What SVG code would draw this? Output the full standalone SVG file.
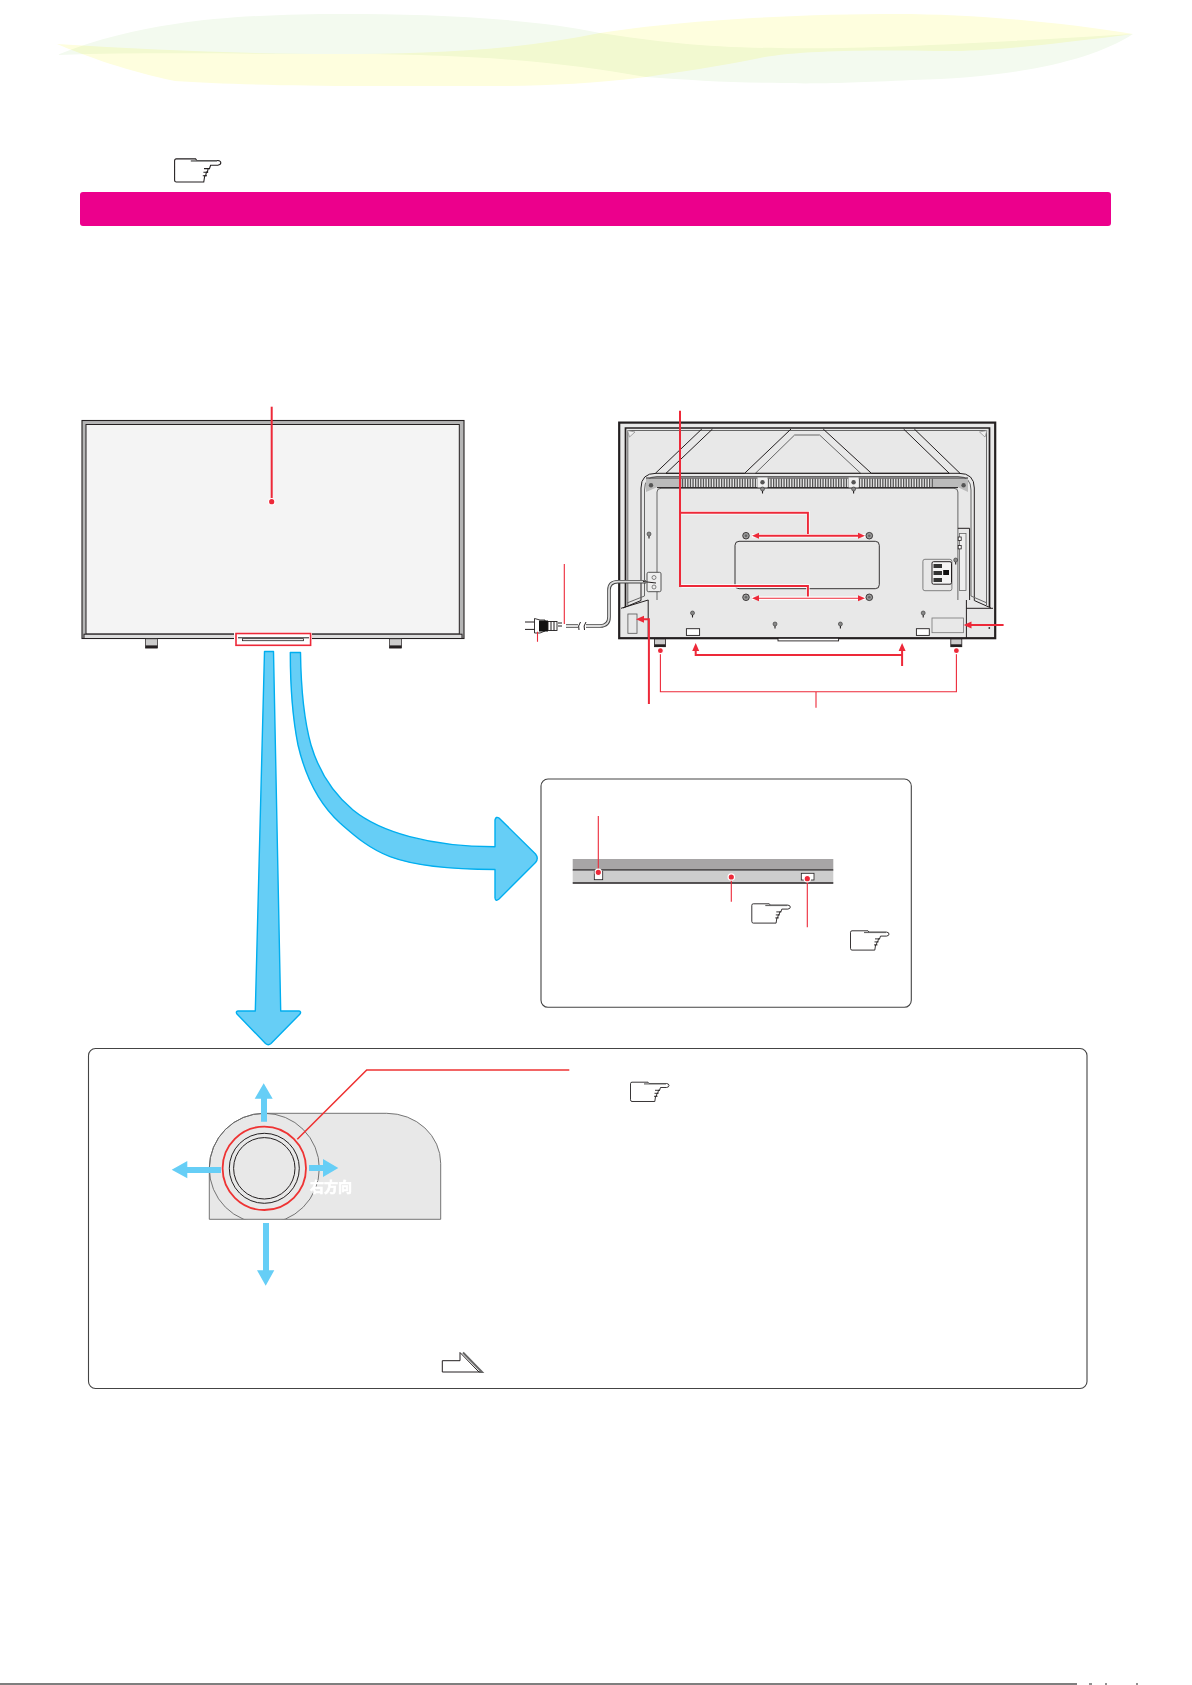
<svg xmlns="http://www.w3.org/2000/svg" xmlns:xlink="http://www.w3.org/1999/xlink" width="1192" height="1685" viewBox="0 0 1192 1685">
<style>
.ln{fill:none;stroke:#231f20;stroke-width:1}
.gl{fill:none;stroke:#666;stroke-width:1}
.r1{fill:none;stroke:#ed2939;stroke-width:1.1}
.r2{fill:none;stroke:#ed2939;stroke-width:2}
.halo{fill:none;stroke:#fff;stroke-width:3.4}
.dot{fill:#ed2939;stroke:#fff;stroke-width:1.2}
.tip{fill:#ed2939}
.big{fill:#66cef6;stroke:#00aeef;stroke-width:1.4;stroke-linejoin:round}
.lb{fill:#66cef6}
.panel{fill:#fff;stroke:#444;stroke-width:1.1}
</style>
<defs>
<g id="hand">
<path d="M2,0.5H18L19,1.8H36.5Q39,2 39,3.8Q39,5.5 36.5,5.8H30.5L29.6,8.5H28.5L27.8,11.5H27L26.4,14.5H25.6L24.8,19.8H2Q0.5,19.8 0.5,18V2Q0.5,0.5 2,0.5Z" fill="#fff" stroke="#231f20" stroke-width="0.9"/>
<path d="M14,2.2H36" fill="none" stroke="#666" stroke-width="1.2"/>
<path d="M25,8.6H30M24.5,11.6H28.5M24,14.6H27.5" fill="none" stroke="#231f20" stroke-width="0.9"/>
</g>
<g id="screw">
<circle r="2" fill="#888" stroke="#333" stroke-width="0.6"/>
<path d="M0,2V4.5" stroke="#231f20" stroke-width="1.1" fill="none"/>
</g>
<g id="hole">
<circle r="3.3" fill="#999" stroke="#231f20" stroke-width="0.8"/>
<circle r="1.3" fill="#666"/>
</g>
<clipPath id="bodyclip"><rect x="205" y="1105" width="240" height="114.3"/></clipPath>
</defs>
<rect width="1192" height="1685" fill="#fff"/>

<g id="header-wave">
<path style="mix-blend-mode:multiply" fill="#f3faef" d="M57,55C100,38 135,30 175,24C225,16 290,14 342,14C430,14 530,18 600,33C660,42 710,48 780,48C860,50 1000,42 1133,34C1090,62 1010,78 912,80C850,83 810,84 783,83C730,83 690,80 646,77C560,62 480,54 335,54C250,54 150,52 57,55Z"/>
<path style="mix-blend-mode:multiply" fill="#fefede" d="M57,44C150,50 250,54 335,54C430,54 520,50 600,33C680,20 800,14 897,14C970,14 1060,22 1133,34C1040,46 980,52 935,51C880,50 800,50 760,58C720,66 680,72 646,77C590,84 540,86 494,86C440,86 400,86 365,86C290,86 220,84 175,81C130,72 85,56 57,44Z"/>
</g>

<use id="hand-top" href="#hand" xlink:href="#hand" transform="translate(174,158.3) scale(1.2)"/>
<rect id="title-bar" x="80" y="192" width="1031" height="34" rx="3" fill="#ec008c"/>

<g id="tv-front">
<rect x="82" y="420.5" width="382" height="218" fill="#b5b5b5" stroke="#231f20" stroke-width="1.1"/>
<rect x="86" y="424.5" width="373.3" height="209.5" fill="#f4f4f4" stroke="#231f20" stroke-width="1"/>
<rect x="84" y="634.2" width="378" height="4.3" fill="#dcdcdc" stroke="#231f20" stroke-width="1"/>
<rect x="145.5" y="638.8" width="12" height="9.2" fill="#ccc" stroke="#231f20" stroke-width="0.7"/>
<rect x="145.5" y="645.4" width="12" height="2.8" fill="#231f20"/>
<rect x="389.5" y="638.8" width="12" height="9.2" fill="#ccc" stroke="#231f20" stroke-width="0.7"/>
<rect x="389.5" y="645.4" width="12" height="2.8" fill="#231f20"/>
<rect x="234" y="632" width="78" height="15" fill="#fff"/>
<rect x="236" y="633.5" width="74.6" height="11.8" fill="#fff" stroke="#ed2939" stroke-width="1.6"/>
<path class="ln" d="M238,637.8H309"/>
<rect x="242.5" y="638.7" width="61" height="2" fill="#fff" stroke="#231f20" stroke-width="0.8"/>
</g>

<g id="tv-back">
<rect x="619.2" y="422.6" width="376" height="215.6" fill="#e8e8e8" stroke="#231f20" stroke-width="2.2"/>
<path d="M625.5,607V428H989.5V607" fill="none" stroke="#231f20" stroke-width="1.7"/>
<path class="gl" d="M627.8,605V430.5H986.5V605"/>
<path d="M627.5,430.5L635,432L629.5,437ZM987,430.5L979.5,432L985,437Z" fill="#f0f0f0" stroke="#888" stroke-width="0.7"/>
<path class="ln" d="M701.8,429L655.4,473.3M712.5,429L666,473.3H744.6L791,429M823.2,429L871.4,473.3H949.3L903.6,429M914.3,429L960,473.3"/>
<path class="gl" d="M755.4,473.3L794.6,435H819.6L860.7,473.3Z"/>
<path class="ln" d="M623,608L641,600.5V488Q641,473.3 656,473.3H959Q974.3,473.3 974.3,488V600.5L991,608"/>
<path class="gl" d="M627,603L644.5,596V490Q644.5,476.5 657,476.5H958Q971,476.5 971,490V596L987,603"/>
<path class="gl" d="M657,600V492Q657,488.3 661,488.3H954Q957.9,488.3 957.9,492V600"/>
<path d="M646,478.5H682V487.3H657L646,492Z" fill="#bbb"/>
<path d="M933,478.5H968V492L958,487.3H933Z" fill="#bbb"/>
<path d="M682,483H934" fill="none" stroke="#555" stroke-width="8.4" stroke-dasharray="1.3 1.3"/>
<path class="ln" d="M646,478H968M657,487.6H958"/>
<rect x="757.5" y="477.5" width="10" height="10" fill="#f0f0f0"/>
<rect x="848.6" y="477.5" width="10" height="10" fill="#f0f0f0"/>
<circle cx="762.5" cy="482.3" r="2.2" fill="#555"/>
<circle cx="853.6" cy="482.3" r="2.2" fill="#555"/>
<circle cx="651" cy="485.3" r="2.2" fill="#555"/>
<circle cx="963.6" cy="485.3" r="2.2" fill="#555"/>
<use href="#screw" xlink:href="#screw" x="762.5" y="489"/>
<use href="#screw" xlink:href="#screw" x="853.6" y="489"/>
<use href="#screw" xlink:href="#screw" x="649" y="534"/>
<use href="#screw" xlink:href="#screw" x="955.7" y="560"/>
<use href="#screw" xlink:href="#screw" x="692.5" y="613"/>
<use href="#screw" xlink:href="#screw" x="923.2" y="613"/>
<use href="#screw" xlink:href="#screw" x="775" y="624"/>
<use href="#screw" xlink:href="#screw" x="840.4" y="624"/>
<use href="#hole" xlink:href="#hole" x="746" y="535.7"/>
<use href="#hole" xlink:href="#hole" x="869.3" y="535.7"/>
<use href="#hole" xlink:href="#hole" x="746" y="597.3"/>
<use href="#hole" xlink:href="#hole" x="869.3" y="597.3"/>
<rect x="735" y="541.3" width="144.3" height="47.4" rx="4" fill="#e8e8e8" stroke="#231f20" stroke-width="0.9"/>
<path class="ln" d="M621,608.3L648.2,600V638M966.4,600V638M966.4,608.3H993"/>
<path class="ln" d="M957.9,528.3H969.6V600"/>
<rect x="959.5" y="533.5" width="6.5" height="57" fill="#eee" stroke="#666" stroke-width="0.8"/>
<rect x="958.2" y="537" width="3" height="3.4" fill="#fff" stroke="#231f20" stroke-width="0.8"/>
<rect x="958.2" y="545.5" width="3" height="3.4" fill="#fff" stroke="#231f20" stroke-width="0.8"/>
<rect x="922.9" y="559.3" width="29" height="31.4" rx="2" fill="none" stroke="#666" stroke-width="0.8"/>
<rect x="932" y="561.7" width="19.5" height="22.5" rx="1.5" fill="#f4f4f4" stroke="#231f20" stroke-width="1"/>
<rect x="933.5" y="564" width="8.5" height="4" fill="#333"/>
<rect x="933.5" y="571" width="8.5" height="4" fill="#333"/>
<rect x="933.5" y="578" width="8.5" height="4" fill="#333"/>
<rect x="943.2" y="570" width="5.8" height="5" fill="#111"/>
<rect x="932" y="618" width="31.6" height="14.7" fill="#e8e8e8" stroke="#777" stroke-width="0.8"/>
<rect x="627.9" y="614" width="9.1" height="19.3" fill="#e8e8e8" stroke="#555" stroke-width="0.8"/>
<rect x="686.4" y="628.7" width="13.2" height="6.7" fill="#fff" stroke="#231f20" stroke-width="0.9"/>
<rect x="916.4" y="628.7" width="12.9" height="6.7" fill="#fff" stroke="#231f20" stroke-width="0.9"/>
<circle cx="989.3" cy="628" r="0.9" fill="#333"/>
<rect x="778" y="638.3" width="60.6" height="2.6" fill="#fff" stroke="#231f20" stroke-width="0.9"/>
<rect x="654.5" y="639" width="11" height="7.7" fill="#ccc" stroke="#231f20" stroke-width="0.8"/>
<rect x="654.5" y="644.3" width="11" height="2.6" fill="#231f20"/>
<rect x="950.8" y="639" width="11" height="7.7" fill="#ccc" stroke="#231f20" stroke-width="0.8"/>
<rect x="950.8" y="644.3" width="11" height="2.6" fill="#231f20"/>
</g>

<g id="power-cord">
<path d="M646,581.7H618Q609,581.7 609,590V617Q609,626 600,626H586M578,626H566" fill="none" stroke="#444" stroke-width="3.6"/>
<path d="M646,581.7H618Q609,581.7 609,590V617Q609,626 600,626H586M578,626H566" fill="none" stroke="#ddd" stroke-width="1.8"/>
<path class="ln" d="M586,622Q583,626 584.5,630M580.5,622Q577.5,626 579,630"/>
<rect x="647" y="572.3" width="14" height="19.4" rx="1.5" fill="#eee" stroke="#444" stroke-width="0.9"/>
<circle cx="654" cy="577.5" r="2" fill="none" stroke="#555" stroke-width="0.7"/>
<path class="ln" d="M643,581.5L656,583"/>
<circle cx="654" cy="587" r="2" fill="none" stroke="#555" stroke-width="0.7"/>
<path class="ln" d="M525,622H535M525,629.4H535"/>
<path d="M534.5,618.5L540,620H545V631L540,633L534.5,633Z" fill="#fff" stroke="#231f20" stroke-width="0.9"/>
<rect x="539" y="620.5" width="9" height="11" fill="#111"/>
<rect x="548" y="621.5" width="9" height="9" fill="#fff" stroke="#231f20" stroke-width="0.9"/>
<path class="ln" d="M551,621.5V630.5M554,621.5V630.5"/>
<path class="ln" d="M558,623H562M558,626H562" stroke-width="0.8"/>
</g>

<g id="panel-sensor">
<rect class="panel" x="541" y="779" width="370.3" height="228.3" rx="7"/>
<rect x="572.7" y="859" width="260.6" height="10.3" fill="#a7a5a6"/>
<rect x="572.7" y="870" width="260.6" height="12.7" fill="#cdcdcd"/>
<path d="M572.7,869.8H833.3M572.7,883H833.3" fill="none" stroke="#231f20" stroke-width="1.3"/>
<rect x="594.3" y="871.7" width="8.4" height="8" fill="#fff" stroke="#231f20" stroke-width="0.8"/>
<rect x="801.3" y="873.3" width="12.7" height="6.7" fill="#fff" stroke="#231f20" stroke-width="0.8"/>
<use href="#hand" xlink:href="#hand" x="751.3" y="903.3"/>
<use href="#hand" xlink:href="#hand" x="850" y="930.3"/>
</g>

<g id="panel-joystick">
<rect class="panel" x="88.5" y="1048.5" width="998.5" height="340" rx="7"/>
<path d="M209.3,1219.3V1168.3A55,55 0 0 1 264.3,1113.3H386.7A54,50 0 0 1 440.7,1163.3V1219.3Z" fill="#e8e8e8" stroke="#666" stroke-width="0.9"/>
<circle cx="264.3" cy="1168.3" r="55" fill="none" stroke="#666" stroke-width="0.9" clip-path="url(#bodyclip)"/>
<circle cx="264.3" cy="1168.3" r="35" class="ln"/>
<circle cx="264.3" cy="1168.3" r="30.7" class="ln"/>
<text x="310" y="1192" font-family="'Noto Sans CJK JP','Noto Sans CJK SC',sans-serif" font-size="14" font-weight="700" fill="#fff" stroke="#fff" stroke-width="0.6">右方向</text>
<path d="M442.3,1360.7H460V1352.5L479,1372H442.3Z" fill="#fff" stroke="#231f20" stroke-width="1"/>
<path d="M463,1352.5L482,1372H479" fill="none" stroke="#666" stroke-width="2"/>
</g>

<g id="connectors">
<path class="big" d="M264.5,651.5H273.5L280.7,1011H299Q301.5,1011.5 300,1014L271,1043.5Q268.3,1046 265.5,1043.5L237,1014Q235.3,1011.5 238,1011H255.3Z"/>
<path class="big" stroke-width="2" d="M290.3,652.5H300.5C301,690 304,720 311,745C320,775 335,795 353,810C380,832 430,846.7 495,846.7V820Q496,816 499,818L535.5,854Q539,858.3 535.5,862.5L499,899Q495.5,902 495,898V869.5C450,869.5 415,866 390,856.7C368,848 355,836 340,823C318,803 305,775 298,745C292,715 290.3,690 290.3,652.5Z"/>

<path class="r2" d="M271.7,406.7V501.7"/>
<circle class="dot" cx="271.7" cy="501.7" r="3.2"/>

<path class="halo" d="M681.5,512.7H807.9V535.7M681.5,586H807.9V598.3"/>
<path class="r2" d="M680,410.7V586H807.9V598.3M680,512.7H807.9V535.7"/>
<path class="halo" d="M752,535.7H865M752,598.3H865" stroke-width="3"/>
<path class="r2" d="M756,535.7H861"/>
<path class="r1" d="M756,598.3H861"/>
<path class="tip" d="M752,535.7L759,532.7V538.7ZM865,535.7L858,532.7V538.7ZM752,598.3L759,595.3V601.3ZM865,598.3L858,595.3V601.3Z"/>

<path class="r1" d="M564.3,564V624M537.5,631.7V641.7"/>

<path class="r2" d="M648.9,704V619.3H642"/>
<path class="tip" d="M636,619.3L644,615.8V622.8Z"/>
<path class="r2" d="M1003.6,625H968"/>
<path class="tip" d="M963.6,625L971.5,621.5V628.5Z"/>
<path class="r2" d="M695.7,648V655H902.1V666M902.1,655V648"/>
<path class="tip" d="M695.7,643L692.2,651H699.2ZM902.1,643L898.6,651H905.6Z"/>
<path class="r1" d="M660.4,650.7V691.7H956.4V650.7M816,691.7V707.7"/>
<circle class="dot" cx="660.4" cy="650.7" r="3"/>
<circle class="dot" cx="956.4" cy="650.7" r="3"/>

<path class="r1" d="M598.3,816V872.3M731.3,877V901.7M807.3,878.7V927.3"/>
<circle class="dot" cx="598.3" cy="872.3" r="3.2"/>
<circle class="dot" cx="731.3" cy="877" r="3.2"/>
<circle class="dot" cx="807.3" cy="878.7" r="3.2"/>

<circle cx="264.3" cy="1168.3" r="41.7" fill="none" stroke="#ee3333" stroke-width="1.8"/>
<path d="M297.3,1139.3L366.7,1070H569.3" fill="none" stroke="#ee3333" stroke-width="1.6"/>

<path class="lb" d="M261,1121.7V1098.7H254.7L263.7,1083.3L272.7,1098.7H267V1121.7Z"/>
<path class="lb" d="M221,1167H187.3V1161L171.7,1169.7L187.3,1178.3V1173H221Z"/>
<path class="lb" d="M309,1165H323V1159L338.3,1168L323,1177V1171H309Z"/>
<path class="lb" d="M263,1223V1270.3H257L265.7,1285.7L274.3,1270.3H269V1223Z"/>
</g>

<use id="hand-panel" href="#hand" xlink:href="#hand" x="630" y="1081.7"/>

<g id="page-edge">
<path d="M0,1684H1077" stroke="#000" stroke-width="1.2" fill="none"/>
<rect x="1089" y="1683.5" width="3" height="1" fill="#222"/>
<rect x="1105" y="1683.5" width="2" height="1" fill="#222"/>
<rect x="1136" y="1683.5" width="2" height="1" fill="#222"/>
</g>
</svg>
